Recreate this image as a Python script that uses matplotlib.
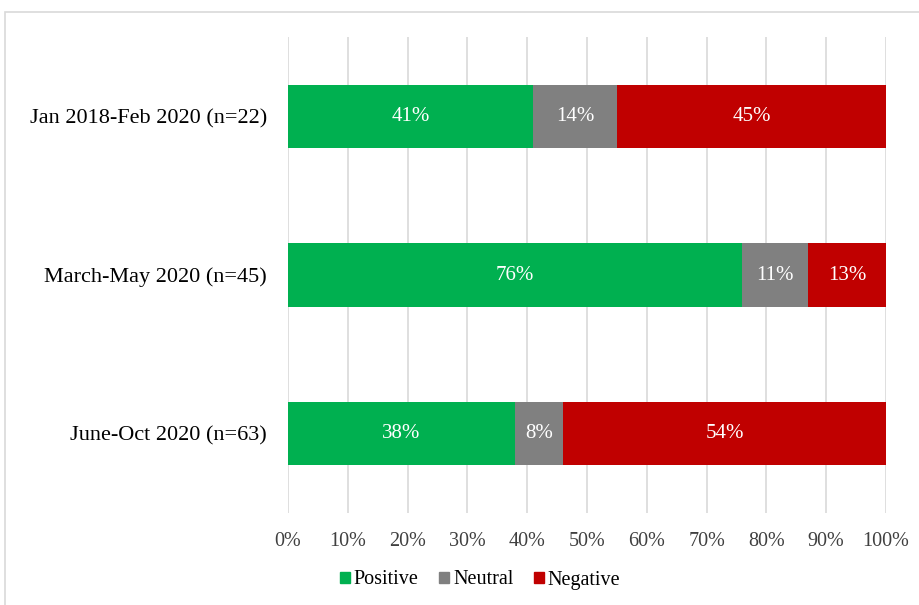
import matplotlib.pyplot as plt
from matplotlib.patches import Rectangle, Patch

periods = ['Jan 2018-Feb 2020 (n=22)', 'March-May 2020 (n=45)', 'June-Oct 2020 (n=63)']
positive = [41, 76, 38]
neutral = [14, 11, 8]
negative = [45, 13, 54]
series_names = ['Positive', 'Neutral', 'Negative']
colors = ['#00B050', '#808080', '#C00000']
ticks = [0, 10, 20, 30, 40, 50, 60, 70, 80, 90, 100]

plt.rcParams['font.family'] = ['Liberation Serif', 'DejaVu Serif']

fig = plt.figure(figsize=(9.2, 6.05), dpi=100)
ax = fig.add_axes([288 / 920, 1 - 513 / 605, (886 - 288) / 920, (513 - 37) / 605])

# outer frame of the chart box
fig.patches.append(Rectangle((5 / 920, -0.01), 1.0, 1 - 12 / 605 + 0.01, transform=fig.transFigure,
                             fill=False, edgecolor='#d9d9d9', linewidth=1.2))

ypos = list(range(len(periods)))
left = [0] * len(periods)
for vals, name, col in zip([positive, neutral, negative], series_names, colors):
    bars = ax.barh(ypos, vals, left=left, height=0.4, color=col, label=name, zorder=3)
    for b, v in zip(bars, vals):
        ax.text(b.get_x() + b.get_width() / 2, b.get_y() + b.get_height() / 2, f'{v}%',
                ha='center', va='center', color='white', fontsize=15, zorder=4)
    left = [l + v for l, v in zip(left, vals)]

ax.set_xlim(0, 100)
ax.set_ylim(2.5, -0.5)
ax.set_xticks(ticks)
ax.set_xticklabels([f'{t}%' for t in ticks], fontsize=14.5, color='#404040')
ax.set_yticks(ypos)
ax.set_yticklabels(periods, fontsize=16)
ax.tick_params(length=0, pad=14)
ax.tick_params(axis='y', pad=15)
ax.grid(axis='x', color='#d9d9d9', linewidth=1.2, zorder=0)
for s in ax.spines.values():
    s.set_visible(False)

handles = [Patch(color=c) for c in colors]
fig.legend(handles, series_names, loc='center', bbox_to_anchor=(480 / 920, 1 - 580 / 605), ncol=3,
           frameon=False, fontsize=14.5, handlelength=0.5, handleheight=0.5, handletextpad=0.2, columnspacing=1.0)

fig.savefig('out.png', dpi=100)
